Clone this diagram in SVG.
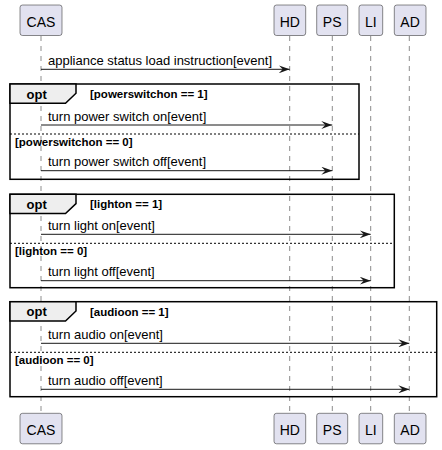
<svg xmlns="http://www.w3.org/2000/svg" width="442" height="450" viewBox="0 0 442 450">
<defs>
<marker id="ah" viewBox="0 0 11 8" refX="11" refY="4" markerWidth="11" markerHeight="8" markerUnits="userSpaceOnUse" orient="auto">
<path d="M0,0 L11,4 L0,8 L4,4 Z" fill="#181818"/>
</marker>
</defs>
<style>
text{font-family:"Liberation Sans",Arial,sans-serif;fill:#000}
.pbox{fill:#E2E2F0;stroke:#181818;stroke-width:0.5}
.pt{font-size:14px}
.life{stroke:#181818;stroke-width:0.5;stroke-dasharray:5,5}
.msg{stroke:#181818;stroke-width:1;fill:none;marker-end:url(#ah)}
.mt{font-size:13px}
.frame{fill:none;stroke:#000;stroke-width:1.5}
.tab{fill:#EEEEEE;stroke:#000;stroke-width:1.5}
.sep{stroke:#000;stroke-width:1;stroke-dasharray:2,2}
.ft{font-size:13px;font-weight:bold}
.ct{font-size:11.5px;font-weight:bold}
</style>
<g id="lifelines">
<line class="life" x1="41" y1="36" x2="41" y2="413"/>
<line class="life" x1="289.7" y1="36" x2="289.7" y2="413"/>
<line class="life" x1="332.3" y1="36" x2="332.3" y2="413"/>
<line class="life" x1="370.7" y1="36" x2="370.7" y2="413"/>
<line class="life" x1="409.3" y1="36" x2="409.3" y2="413"/>
</g>
<g id="CAS">
<rect class="pbox" x="20" y="5" width="42" height="30.5" rx="2.5"/>
<text class="pt" x="41" y="26.8" text-anchor="middle">CAS</text>
<rect class="pbox" x="20" y="413.3" width="42" height="30.5" rx="2.5"/>
<text class="pt" x="41" y="435" text-anchor="middle">CAS</text>
</g>
<g id="HD">
<rect class="pbox" x="274" y="5" width="31.7" height="30.5" rx="2.5"/>
<text class="pt" x="289.8" y="26.8" text-anchor="middle">HD</text>
<rect class="pbox" x="274" y="413.3" width="31.7" height="30.5" rx="2.5"/>
<text class="pt" x="289.8" y="435" text-anchor="middle">HD</text>
</g>
<g id="PS">
<rect class="pbox" x="316.7" y="5" width="31" height="30.5" rx="2.5"/>
<text class="pt" x="332.2" y="26.8" text-anchor="middle">PS</text>
<rect class="pbox" x="316.7" y="413.3" width="31" height="30.5" rx="2.5"/>
<text class="pt" x="332.2" y="435" text-anchor="middle">PS</text>
</g>
<g id="LI">
<rect class="pbox" x="359" y="5" width="23.7" height="30.5" rx="2.5"/>
<text class="pt" x="370.8" y="26.8" text-anchor="middle">LI</text>
<rect class="pbox" x="359" y="413.3" width="23.7" height="30.5" rx="2.5"/>
<text class="pt" x="370.8" y="435" text-anchor="middle">LI</text>
</g>
<g id="AD">
<rect class="pbox" x="394.3" y="5" width="31.7" height="30.5" rx="2.5"/>
<text class="pt" x="410.1" y="26.8" text-anchor="middle">AD</text>
<rect class="pbox" x="394.3" y="413.3" width="31.7" height="30.5" rx="2.5"/>
<text class="pt" x="410.1" y="435" text-anchor="middle">AD</text>
</g>
<g id="opt1">
<rect class="frame" x="10" y="84" width="349" height="95.3"/>
<path class="tab" d="M10,84 L76,84 L76,93.3 L65.5,103.3 L10,103.3 Z"/>
<text class="ft" x="26.5" y="98.5">opt</text>
<text class="ct" x="90" y="97.8">[powerswitchon == 1]</text>
<line class="sep" x1="10" y1="134" x2="359" y2="134"/>
<text class="ct" x="15" y="145.8">[powerswitchon == 0]</text>
</g>
<g id="opt2">
<rect class="frame" x="10" y="194.3" width="384.3" height="93.4"/>
<path class="tab" d="M10,194.3 L76,194.3 L76,203.6 L65.5,213.6 L10,213.6 Z"/>
<text class="ft" x="26.5" y="208.8">opt</text>
<text class="ct" x="90" y="208.1">[lighton == 1]</text>
<line class="sep" x1="10" y1="243.3" x2="394.3" y2="243.3"/>
<text class="ct" x="15" y="255.1">[lighton == 0]</text>
</g>
<g id="opt3">
<rect class="frame" x="10" y="301.7" width="426.7" height="95"/>
<path class="tab" d="M10,301.7 L76,301.7 L76,311 L65.5,321 L10,321 Z"/>
<text class="ft" x="26.5" y="316.2">opt</text>
<text class="ct" x="90" y="315.5">[audioon == 1]</text>
<line class="sep" x1="10" y1="352.3" x2="436.7" y2="352.3"/>
<text class="ct" x="15" y="364.1">[audioon == 0]</text>
</g>
<g id="connectors">
<line class="msg" x1="41" y1="69.3" x2="289.7" y2="69.3"/>
<text class="mt" x="48" y="65">appliance status load instruction[event]</text>
<line class="msg" x1="41" y1="125" x2="332.3" y2="125"/>
<text class="mt" x="48" y="120.8">turn power switch on[event]</text>
<line class="msg" x1="41" y1="170.7" x2="332.3" y2="170.7"/>
<text class="mt" x="48" y="166.4">turn power switch off[event]</text>
<line class="msg" x1="41" y1="234.3" x2="370.7" y2="234.3"/>
<text class="mt" x="48" y="230">turn light on[event]</text>
<line class="msg" x1="41" y1="280.7" x2="370.7" y2="280.7"/>
<text class="mt" x="48" y="276.4">turn light off[event]</text>
<line class="msg" x1="41" y1="343.3" x2="409.3" y2="343.3"/>
<text class="mt" x="48" y="339">turn audio on[event]</text>
<line class="msg" x1="41" y1="389.3" x2="409.3" y2="389.3"/>
<text class="mt" x="48" y="385">turn audio off[event]</text>
</g>
</svg>
